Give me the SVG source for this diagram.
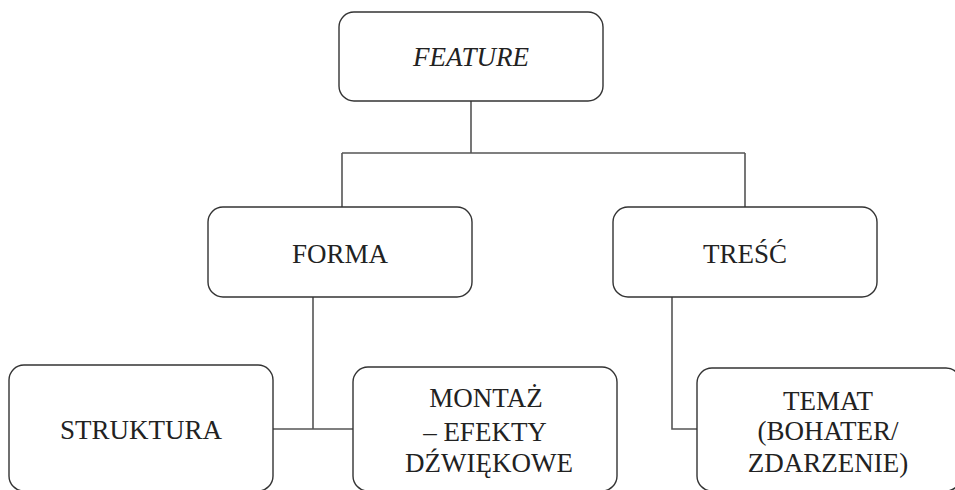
<svg xmlns="http://www.w3.org/2000/svg" width="955" height="490" viewBox="0 0 955 490">
<style>
.box{fill:#fff;stroke:#333;stroke-width:1.4}
.t{font-family:'Liberation Serif','DejaVu Serif',serif;font-size:27px;fill:#222;text-anchor:middle}
.c{fill:none;stroke:#555;stroke-width:1.6}
</style>
<rect width="955" height="490" fill="#fff"/>
<g id="connectors">
<path class="c" d="M471,101 V153 M342,153 H745 M342,153 V207 M745,153 V207"/>
<path class="c" d="M313,297 V429 M273,429 H353"/>
<path class="c" d="M672,297 V429 H697"/>
</g>
<g id="feature">
<rect class="box" x="339" y="12" width="264" height="89" rx="15"/>
<text class="t" x="471" y="66" font-style="italic">FEATURE</text>
</g>
<g id="forma">
<rect class="box" x="208" y="207" width="264" height="90" rx="15"/>
<text class="t" x="340" y="263">FORMA</text>
</g>
<g id="tresc">
<rect class="box" x="613" y="207" width="264" height="90" rx="15"/>
<text class="t" x="745" y="263">TREŚĆ</text>
</g>
<g id="struktura">
<rect class="box" x="9" y="365" width="264" height="126" rx="15"/>
<text class="t" x="141" y="439">STRUKTURA</text>
</g>
<g id="montaz">
<rect class="box" x="353" y="367" width="264" height="124" rx="15"/>
<text class="t" x="486" y="407">MONTAŻ</text>
<text class="t" x="485" y="441">– EFEKTY</text>
<text class="t" x="489" y="472">DŹWIĘKOWE</text>
</g>
<g id="temat">
<rect class="box" x="697" y="368" width="264" height="123" rx="15"/>
<text class="t" x="828" y="410">TEMAT</text>
<text class="t" x="828" y="440">(BOHATER/</text>
<text class="t" x="828" y="472">ZDARZENIE)</text>
</g>
</svg>
